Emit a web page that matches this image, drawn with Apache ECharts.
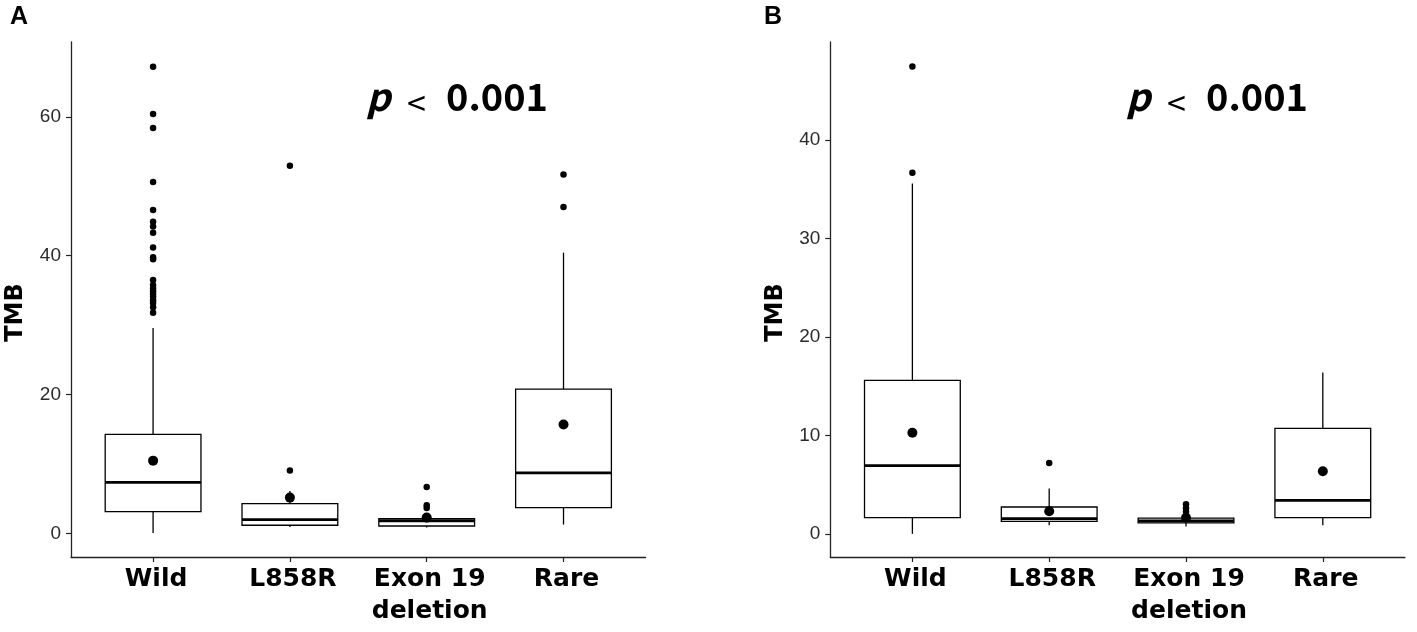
<!DOCTYPE html>
<html>
<head>
<meta charset="utf-8">
<title>TMB by EGFR mutation</title>
<script src="https://cdn.jsdelivr.net/npm/echarts@6/dist/echarts.min.js"></script>
<style>
  html, body { margin: 0; padding: 0; background: #fff; }
  #chart { width: 1417px; height: 632px; }
</style>
</head>
<body>
<div id="chart"></div>
<script>
// categories, shared by both panels
var categories = ['Wild', 'L858R', 'Exon 19\ndeletion', 'Rare'];
var yTicksA = [0, 20, 40, 60];
var yTicksB = [0, 10, 20, 30, 40];

// panel A: box stats per category (lower whisker, Q1, median, Q3, upper whisker)
var whiskerLowA = [0.1, 0.95, 0.86, 1.3];
var q1A = [3.17, 1.2, 1.09, 3.75];
var medianA = [7.36, 2.0, 1.85, 8.75];
var q3A = [14.27, 4.32, 2.16, 20.8];
var whiskerHighA = [29.6, 6.13, 2.5, 40.45];
var meanA = [10.5, 5.18, 2.3, 15.7];
// outliers: [category index, TMB]
var outliersA = [
    [0, 67.2], [0, 60.4], [0, 58.4], [0, 50.6], [0, 46.6], [0, 44.9], [0, 44.2],
    [0, 43.3], [0, 41.2], [0, 39.8], [0, 39.5], [0, 36.5], [0, 35.8], [0, 35.3],
    [0, 34.9], [0, 34.5], [0, 34.1], [0, 33.6], [0, 33.2], [0, 32.6], [0, 31.8],
    [1, 52.95], [1, 9.1],
    [2, 6.7], [2, 4.08], [2, 3.69],
    [3, 51.7], [3, 47.0]
];

// panel B
var whiskerLowB = [0.0, 0.86, 0.74, 0.86];
var q1B = [1.64, 1.27, 1.1, 1.64];
var medianB = [6.93, 1.55, 1.32, 3.4];
var q3B = [15.6, 2.72, 1.6, 10.71];
var whiskerHighB = [35.6, 4.6, 1.6, 16.4];
var meanB = [10.26, 2.29, 1.63, 6.36];
var outliersB = [
    [0, 47.5], [0, 36.7],
    [1, 7.2],
    [2, 3.0], [2, 2.6], [2, 2.25]
];

(function() {
    'use strict';

    var BOX_WIDTH = 0.7;      // in category units
    var INK = '#000';
    var AXIS_INK = '#222';

    function boxRows(lo, q1, md, q3, hi) {
        return categories.map(function(c, i) {
            return [i + 1, lo[i], q1[i], md[i], q3[i], hi[i]];
        });
    }

    function pointRows(values) {
        return values.map(function(v, i) { return [i + 1, v]; });
    }

    function shiftOutliers(list) {
        return list.map(function(p) { return [p[0] + 1, p[1]]; });
    }

    // ggplot-like box: no whisker caps, thick median
    function renderBox(params, api) {
        var x = api.value(0);
        var lo = api.coord([x, api.value(1)]);
        var q1 = api.coord([x, api.value(2)]);
        var md = api.coord([x, api.value(3)]);
        var q3 = api.coord([x, api.value(4)]);
        var hi = api.coord([x, api.value(5)]);
        var half = api.size([BOX_WIDTH, 0])[0] / 2;
        var thin = { stroke: INK, lineWidth: 1.3, fill: null };
        return {
            type: 'group',
            children: [
                { type: 'line', shape: { x1: lo[0], y1: lo[1], x2: q1[0], y2: q1[1] }, style: thin },
                { type: 'line', shape: { x1: q3[0], y1: q3[1], x2: hi[0], y2: hi[1] }, style: thin },
                { type: 'rect',
                  shape: { x: q1[0] - half, y: q3[1], width: half * 2, height: q1[1] - q3[1] },
                  style: { fill: '#fff', stroke: INK, lineWidth: 1.3 } },
                { type: 'line', shape: { x1: md[0] - half, y1: md[1], x2: md[0] + half, y2: md[1] },
                  style: { stroke: INK, lineWidth: 2.8 } }
            ]
        };
    }

    function xAxisFor(gridIndex) {
        return {
            type: 'value', gridIndex: gridIndex, min: 0.4, max: 4.6,
            splitLine: { show: false },
            axisLine: { show: true, onZero: false, lineStyle: { color: AXIS_INK, width: 1.3 } },
            axisTick: { show: true, customValues: [1, 2, 3, 4], length: 5,
                        lineStyle: { color: AXIS_INK, width: 1.2 } },
            axisLabel: {
                customValues: [1, 2, 3, 4],
                formatter: function(v) { return categories[Math.round(v) - 1]; },
                fontFamily: 'DejaVu Sans', fontWeight: 'bold', fontSize: 25,
                color: '#000', lineHeight: 32, margin: 6, padding: [0, 0, 0, 6]
            }
        };
    }

    function yAxisFor(gridIndex, min, max, ticks) {
        return {
            type: 'value', gridIndex: gridIndex, min: min, max: max,
            splitLine: { show: false },
            axisLine: { show: true, onZero: false, lineStyle: { color: AXIS_INK, width: 1.3 } },
            axisTick: { show: true, customValues: ticks, length: 5,
                        lineStyle: { color: AXIS_INK, width: 1.2 } },
            axisLabel: {
                customValues: ticks,
                fontFamily: 'Liberation Sans', fontSize: 19, color: '#2b2b2b', margin: 10
            },
            name: 'TMB', nameLocation: 'middle', nameRotate: 90, nameGap: 43,
            nameTextStyle: { fontFamily: 'DejaVu Sans', fontWeight: 'bold', fontSize: 24,
                             color: '#000', padding: [0, 26, 0, 0] }
        };
    }

    function panelSeries(idx, lo, q1, md, q3, hi, mean, outliers) {
        return [
            { type: 'custom', xAxisIndex: idx, yAxisIndex: idx,
              renderItem: renderBox, encode: { x: 0, y: [1, 2, 3, 4, 5] },
              data: boxRows(lo, q1, md, q3, hi), z: 2, silent: true },
            { type: 'scatter', xAxisIndex: idx, yAxisIndex: idx,
              data: shiftOutliers(outliers), symbol: 'circle', symbolSize: 6.5,
              itemStyle: { color: INK, opacity: 1 }, z: 3, silent: true },
            { type: 'scatter', xAxisIndex: idx, yAxisIndex: idx,
              data: pointRows(mean), symbol: 'circle', symbolSize: 10,
              itemStyle: { color: INK, opacity: 1 }, z: 4, silent: true }
        ];
    }

    function pValue(left) {
        var base = { fill: '#000', fontFamily: 'Noto Sans CJK KR', fontSize: 38 };
        return [
            { type: 'text', left: left, top: 78,
              style: Object.assign({}, base, { text: 'p', fontStyle: 'italic', fontWeight: 'bold' }) },
            { type: 'text', left: left + 41, top: 86,
              style: Object.assign({}, base, { text: '<', fontSize: 34, fontWeight: 'normal' }) },
            { type: 'text', left: left + 80, top: 78,
              style: Object.assign({}, base, { text: '0.001', fontWeight: 'bold' }) }
        ];
    }

    function panelLetter(text, left) {
        return { type: 'text', left: left, top: 5,
                 style: { text: text, fill: '#000', fontFamily: 'Liberation Sans',
                          fontWeight: 'bold', fontSize: 25 } };
    }

    var chart = echarts.init(document.getElementById('chart'), null, { renderer: 'canvas' });

    var option = {
        animation: false,
        backgroundColor: '#fff',
        grid: [
            { left: 71, top: 42, width: 574.6, height: 515 },
            { left: 830.3, top: 42, width: 574.6, height: 515 }
        ],
        xAxis: [xAxisFor(0), xAxisFor(1)],
        yAxis: [
            yAxisFor(0, -3.37, 70.77, yTicksA),
            yAxisFor(1, -2.36, 49.98, yTicksB)
        ],
        series: []
            .concat(panelSeries(0, whiskerLowA, q1A, medianA, q3A, whiskerHighA, meanA, outliersA))
            .concat(panelSeries(1, whiskerLowB, q1B, medianB, q3B, whiskerHighB, meanB, outliersB)),
        graphic: [panelLetter('A', 10), panelLetter('B', 764)]
            .concat(pValue(366))
            .concat(pValue(1126))
    };

    chart.setOption(option);
})();
</script>
</body>
</html>
